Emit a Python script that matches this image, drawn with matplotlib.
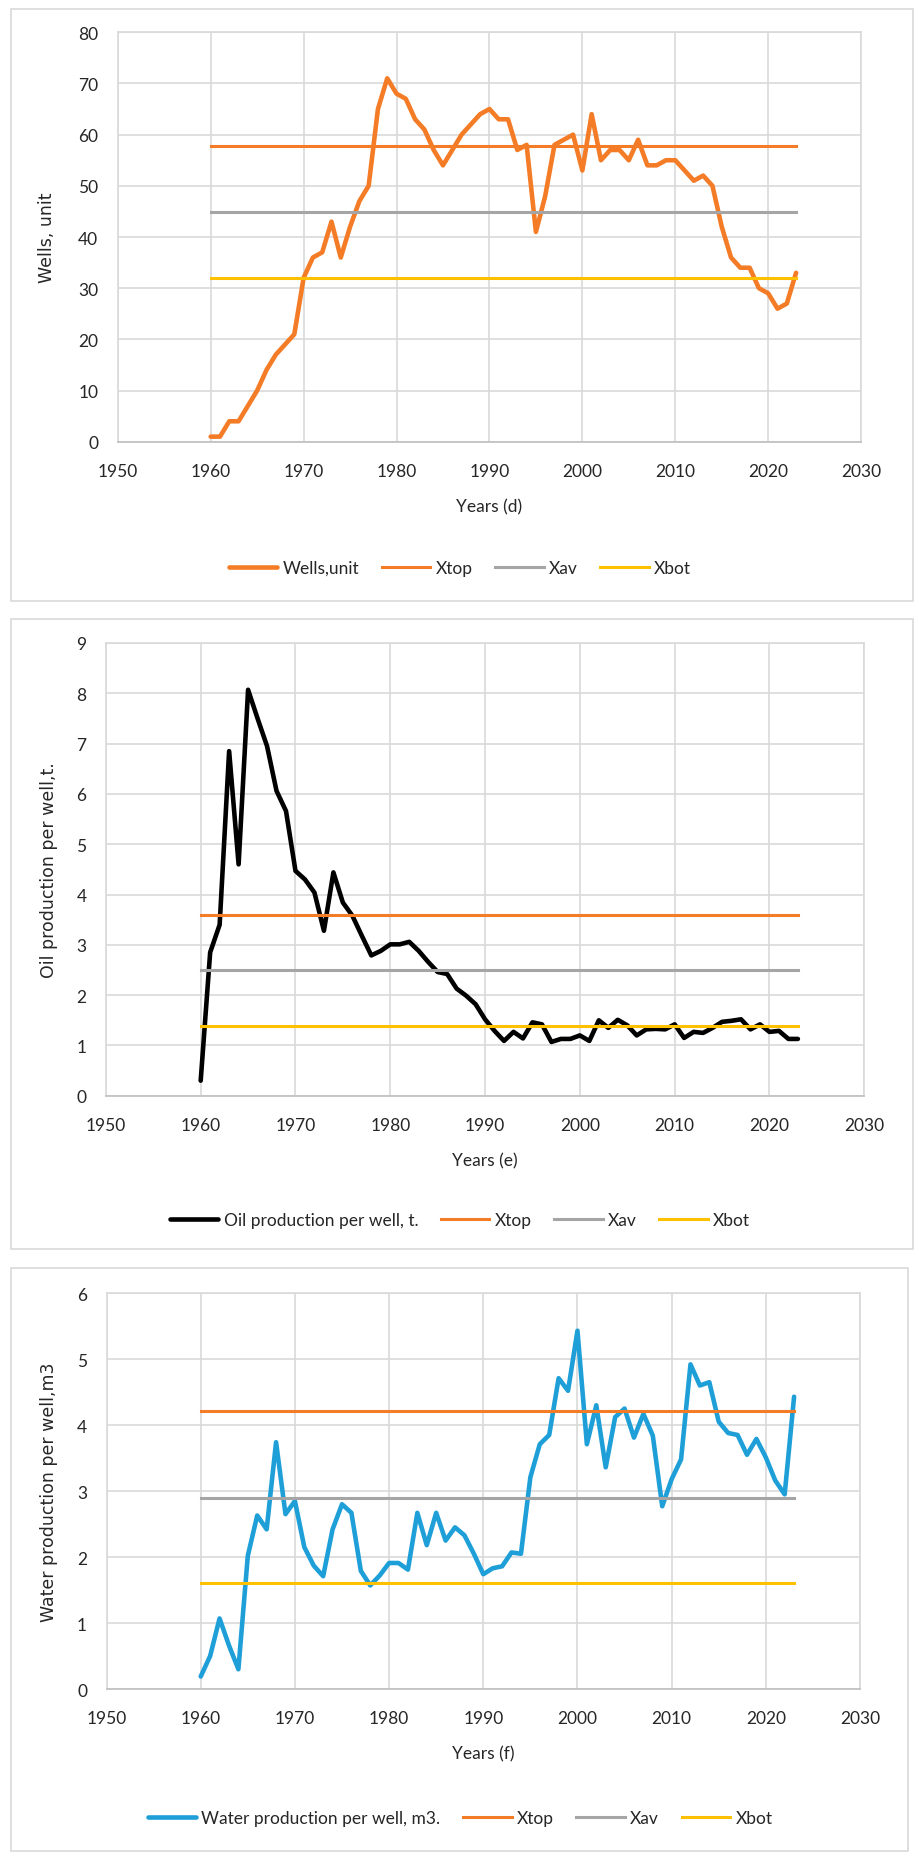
import matplotlib
matplotlib.use("Agg")
import matplotlib.pyplot as plt
from matplotlib.patches import Rectangle

years = list(range(1960, 2024))

wells = [1, 1, 4, 4, 7, 10, 14, 17, 19, 21,
         32, 36, 37, 43, 36, 42, 47, 50, 65, 71,
         68, 67, 63, 61, 57, 54, 57, 60, 62, 64,
         65, 63, 63, 57, 58, 41, 48, 58, 59, 60,
         53, 64, 55, 57, 57, 55, 59, 54, 54, 55,
         55, 53, 51, 52, 50, 42, 36, 34, 34, 30,
         29, 26, 27, 33]
wells_lines = [57.7, 44.8, 31.9]   # Xtop, Xav, Xbot

oil = [0.3, 2.85, 3.4, 6.85, 4.6, 8.07, 7.5, 6.95, 6.06, 5.66,
       4.47, 4.3, 4.04, 3.28, 4.44, 3.84, 3.58, 3.18, 2.79, 2.88,
       3.01, 3.01, 3.06, 2.88, 2.66, 2.46, 2.42, 2.13, 1.99, 1.82,
       1.52, 1.29, 1.09, 1.27, 1.14, 1.46, 1.42, 1.07, 1.13, 1.13,
       1.2, 1.09, 1.5, 1.35, 1.51, 1.4, 1.2, 1.32, 1.33, 1.32,
       1.42, 1.15, 1.27, 1.25, 1.35, 1.47, 1.49, 1.52, 1.32, 1.42,
       1.27, 1.29, 1.13, 1.13]
oil_lines = [3.6, 2.5, 1.39]

water = [0.19, 0.5, 1.07, 0.66, 0.3, 2.02, 2.63, 2.42, 3.74, 2.65,
         2.85, 2.15, 1.87, 1.71, 2.42, 2.8, 2.67, 1.79, 1.57, 1.72,
         1.91, 1.91, 1.81, 2.67, 2.18, 2.67, 2.25, 2.45, 2.33, 2.05,
         1.74, 1.83, 1.86, 2.07, 2.05, 3.21, 3.71, 3.85, 4.71, 4.52,
         5.43, 3.71, 4.3, 3.36, 4.12, 4.25, 3.81, 4.17, 3.84, 2.77,
         3.18, 3.48, 4.92, 4.6, 4.65, 4.05, 3.88, 3.85, 3.55, 3.79,
         3.51, 3.16, 2.95, 4.43]
water_lines = [4.21, 2.89, 1.61]

ref_names = ["Xtop", "Xav", "Xbot"]
ref_colors = ["#f47c26", "#a5a5a5", "#ffc000"]
grid_c = "#d9d9d9"
text_c = "#262626"
tick_font = "Lato"

fig = plt.figure(figsize=(9.2, 18.58), dpi=100)

panels = [
    dict(rect=[0.128, 0.7617, 0.808, 0.2204], box=(11, 10, 913, 602),
         y=wells, refs=wells_lines, color="#f47c26", name="Wells,unit",
         ylabel="Wells, unit", xlabel="Years (d)", ymax=80, ystep=10,
         leg_y=569, ylab_x=-0.083),
    dict(rect=[0.1151, 0.4097, 0.8243, 0.2437], box=(11, 620, 913, 1250),
         y=oil, refs=oil_lines, color="black", name="Oil production per well, t.",
         ylabel="Oil production per well,t.", xlabel="Years (e)", ymax=9, ystep=1,
         leg_y=1221, ylab_x=-0.063),
    dict(rect=[0.1158, 0.0904, 0.819, 0.2131], box=(11, 1269, 908, 1852),
         y=water, refs=water_lines, color="#1f9fd8", name="Water production per well, m3.",
         ylabel="Water production per well,m3", xlabel="Years (f)", ymax=6, ystep=1,
         leg_y=1819, ylab_x=-0.064),
]

W, H = 920, 1858
for p in panels:
    x0, y0, x1, y1 = p["box"]
    fig.patches.append(Rectangle((x0 / W, 1 - y1 / H), (x1 - x0) / W, (y1 - y0) / H,
                                 transform=fig.transFigure, fill=False,
                                 edgecolor=grid_c, lw=1.2))

    ax = fig.add_axes(p["rect"])
    ax.plot(years, p["y"], color=p["color"], lw=3.3, label=p["name"],
            solid_joinstyle="round", solid_capstyle="round")
    for v, n, c in zip(p["refs"], ref_names, ref_colors):
        ax.plot(years, [v] * len(years), color=c, lw=2.2, label=n)

    ax.set_xlim(1950, 2030)
    ax.set_ylim(0, p["ymax"])
    ax.set_xticks(range(1950, 2031, 10))
    ax.set_yticks(range(0, p["ymax"] + 1, p["ystep"]))
    ax.grid(True, color=grid_c, lw=1.2)
    ax.set_axisbelow(True)
    for s in ax.spines.values():
        s.set_color(grid_c)
        s.set_linewidth(1.2)
    ax.spines["bottom"].set_color("#bfbfbf")
    ax.tick_params(length=0, labelsize=12.5, colors=text_c)
    ax.tick_params(axis="x", pad=15)
    ax.tick_params(axis="y", pad=14)
    for lab in ax.get_xticklabels() + ax.get_yticklabels():
        lab.set_fontfamily(tick_font)

    ax.set_ylabel(p["ylabel"], fontsize=12.5, family="DejaVu Sans", color=text_c)
    ax.yaxis.set_label_coords(p["ylab_x"], 0.5)
    ax.set_xlabel(p["xlabel"], fontsize=12.5, family=tick_font, color=text_c,
                  labelpad=14)

    ax.legend(loc="center", bbox_to_anchor=(0.5, 1 - p["leg_y"] / H),
              bbox_transform=fig.transFigure, ncol=4, frameon=False,
              prop={"family": tick_font, "size": 12.5}, handlelength=2.8,
              handletextpad=0.3, columnspacing=1.3, labelcolor=text_c)

fig.savefig("out.png", dpi=100)
